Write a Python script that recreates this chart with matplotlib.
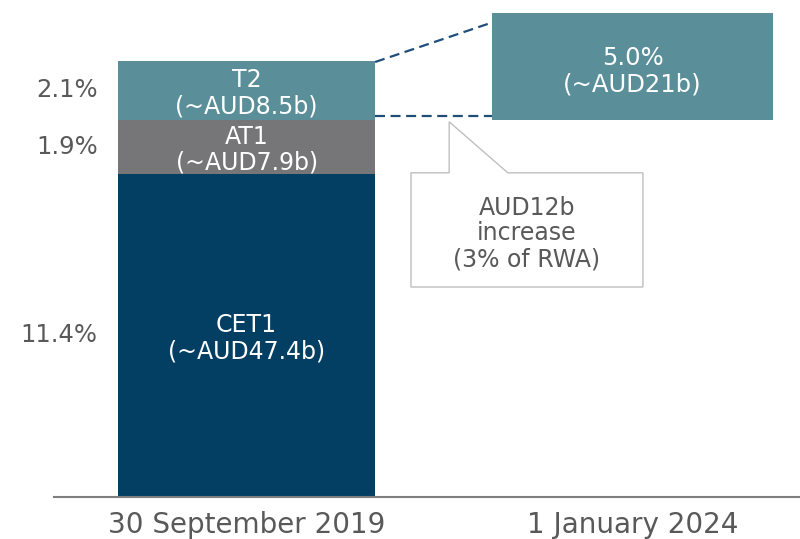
import matplotlib
matplotlib.use("Agg")
import matplotlib.pyplot as plt
from matplotlib.patches import Polygon

# capital stack at 30 September 2019 (% of RWA) and the 2024 requirement
periods = ['30 September 2019', '1 January 2024']
tiers = ['CET1', 'AT1', 'T2']
tier_pct = [11.4, 1.9, 2.1]
tier_aud = ['~AUD47.4b', '~AUD7.9b', '~AUD8.5b']
t2_2024_pct = 5.0
t2_2024_aud = '~AUD21b'
increase_text = 'AUD12b\nincrease\n(3% of RWA)'

colors = {'CET1': '#023f62', 'AT1': '#767678', 'T2': '#5a8f99'}
grey_txt = '#595959'
dash_col = '#1f4e79'

plt.rcParams['font.family'] = ['DejaVu Sans']

fig = plt.figure(figsize=(8, 5.39), dpi=100)
ax = fig.add_axes([54 / 800, 42 / 539, 746 / 800, 484 / 539])

bar_w = 0.666
bottom = 0
for name, pct, aud in zip(tiers, tier_pct, tier_aud):
    ax.bar(0, pct, bottom=bottom, width=bar_w, color=colors[name], zorder=2)
    mid = bottom + pct / 2
    ax.text(0, mid - 0.1, f'{name}\n({aud})', ha='center', va='center',
            color='white', fontsize=17, linespacing=1.1, zorder=3)
    ax.text(-0.386, mid, f'{pct:.1f}%', ha='right', va='center',
            color=grey_txt, fontsize=17.5, clip_on=False)
    bottom += pct

at1_top = tier_pct[0] + tier_pct[1]
total = sum(tier_pct)
ytop = 17.08

# 2024 T2 requirement box, sitting on top of the AT1 level
ax.bar(1, t2_2024_pct, bottom=at1_top, width=0.728, color=colors['T2'], zorder=4)
ax.text(1, at1_top + (ytop - at1_top) / 2 - 0.17, f'{t2_2024_pct:.1f}%\n({t2_2024_aud})',
        ha='center', va='center', color='white', fontsize=17.5, linespacing=1.1,
        zorder=5)

# dashed connectors
ax.plot([bar_w / 2, 0.709], [total - 0.05, ytop], ls=(0, (4.5, 2.5)), color=dash_col,
        lw=1.6, zorder=3, clip_on=False)
ax.plot([bar_w / 2, 0.636], [at1_top + 0.15, at1_top + 0.15], ls=(0, (4.5, 2.5)),
        color=dash_col, lw=1.6, zorder=3)

# callout
x0, x1, y0, y1 = 0.426, 1.027, 7.41, 11.44
callout = Polygon([(x0, y0), (x1, y0), (x1, y1), (0.677, y1), (0.525, 13.24),
                   (0.525, y1), (x0, y1)], closed=True, facecolor='white',
                  edgecolor='#bfbfbf', lw=1, zorder=3)
ax.add_patch(callout)
ax.text((x0 + x1) / 2, 9.3, increase_text, ha='center', va='center',
        color=grey_txt, fontsize=17, linespacing=1.1, zorder=4)

ax.set_xlim(-0.499, 1.434)
ax.set_ylim(0, ytop)
ax.set_xticks([0, 1])
ax.set_xticklabels(periods, fontsize=20, color=grey_txt)
ax.tick_params(axis='x', length=0, pad=10)
ax.set_yticks([])
for s in ['top', 'left', 'right']:
    ax.spines[s].set_visible(False)
ax.spines['bottom'].set_color('#7f7f7f')
ax.spines['bottom'].set_linewidth(1.5)

fig.savefig('out.png', dpi=100)
